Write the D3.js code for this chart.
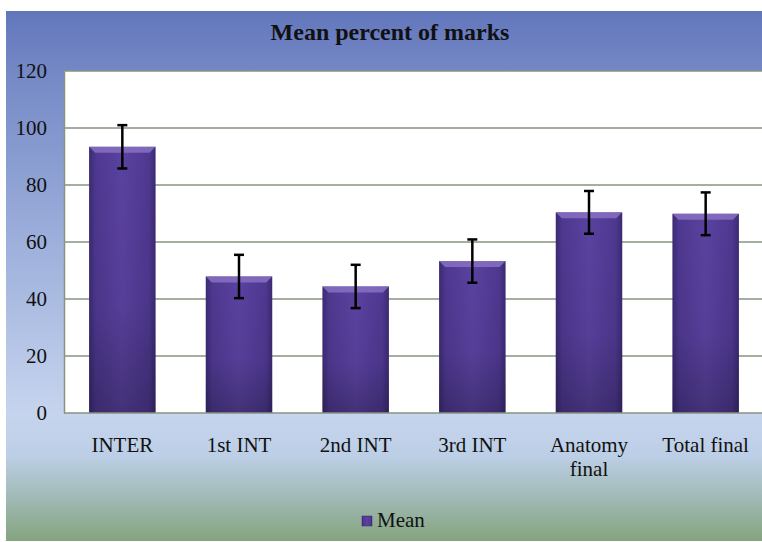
<!DOCTYPE html>
<html>
<head>
<meta charset="utf-8">
<script src="https://cdn.jsdelivr.net/npm/d3@7"></script>
<style>
  body { margin: 0; background: #fff; }
  text { font-family: "Liberation Serif", "DejaVu Serif", serif; }
</style>
</head>
<body>
<div id="chart"></div>
<script>
// data
var categories = ["INTER", "1st INT", "2nd INT", "3rd INT", "Anatomy final", "Total final"];
var means = [93.4, 47.9, 44.4, 53.3, 70.4, 69.9];
var errors = [7.6, 7.6, 7.6, 7.6, 7.5, 7.5];
var yTicks = [0, 20, 40, 60, 80, 100, 120];
var seriesName = "Mean";
var title = "Mean percent of marks";

var W = 762, H = 542;
var plot = { left: 64, top: 71, right: 764, bottom: 413 };

var svg = d3.select("#chart").append("svg")
  .attr("width", W).attr("height", H);

var defs = svg.append("defs");

// panel background: blue at top, pale blue, then green at bottom
var bg = defs.append("linearGradient")
  .attr("id", "bgGrad").attr("x1", 0).attr("y1", 0).attr("x2", 0).attr("y2", 1);
[["0%", "#6276bc"], ["12%", "#7589c6"], ["45%", "#9fb1dc"], ["76%", "#c6d4ee"],
 ["84%", "#bccfe6"], ["92%", "#a0b9b4"], ["100%", "#84a47e"]].forEach(function(s) {
  bg.append("stop").attr("offset", s[0]).attr("stop-color", s[1]);
});

// bar fill: darker at the sides
var barH = defs.append("linearGradient")
  .attr("id", "barGrad").attr("x1", 0).attr("y1", 0).attr("x2", 1).attr("y2", 0);
[["0%", "#3b2a72"], ["10%", "#4e3890"], ["50%", "#5a42a0"], ["90%", "#4e3890"], ["100%", "#3b2a72"]]
  .forEach(function(s) { barH.append("stop").attr("offset", s[0]).attr("stop-color", s[1]); });

var barV = defs.append("linearGradient")
  .attr("id", "barShade").attr("x1", 0).attr("y1", 0).attr("x2", 0).attr("y2", 1);
[["0%", "#000", 0], ["60%", "#000", 0.05], ["100%", "#000", 0.25]].forEach(function(s) {
  barV.append("stop").attr("offset", s[0]).attr("stop-color", s[1]).attr("stop-opacity", s[2]);
});

svg.append("rect")
  .attr("x", 6).attr("y", 11).attr("width", W - 6).attr("height", H - 12)
  .attr("fill", "url(#bgGrad)");

// plot area
svg.append("rect")
  .attr("x", plot.left).attr("y", plot.top)
  .attr("width", plot.right - plot.left).attr("height", plot.bottom - plot.top)
  .attr("fill", "#fff");

var x = d3.scaleBand().domain(categories).range([plot.left, plot.right]).paddingInner(0.43).paddingOuter(0.215);
var y = d3.scaleLinear().domain([0, 120]).range([plot.bottom, plot.top]);

// gridlines
svg.append("g").selectAll("line").data(yTicks.filter(function(d) { return d > 0; }))
  .enter().append("line")
  .attr("x1", plot.left).attr("x2", plot.right)
  .attr("y1", function(d) { return y(d); }).attr("y2", function(d) { return y(d); })
  .attr("stroke", "#87957f").attr("stroke-width", 1.5);

// y axis
var yAxis = svg.append("g")
  .attr("transform", "translate(" + plot.left + ",0)")
  .call(d3.axisLeft(y).tickValues(yTicks).tickSize(0).tickPadding(17));
yAxis.select(".domain").attr("stroke", "#87957f").attr("stroke-width", 1.5);
yAxis.selectAll("text").attr("font-size", 21).attr("fill", "#111")
  .style("font-family", "Liberation Serif, serif");

// bars
var bars = svg.append("g").selectAll("g").data(categories).enter().append("g");
bars.append("rect")
  .attr("x", function(d) { return x(d); })
  .attr("y", function(d, i) { return y(means[i]); })
  .attr("width", x.bandwidth())
  .attr("height", function(d, i) { return plot.bottom - y(means[i]); })
  .attr("fill", "url(#barGrad)");
bars.append("rect")
  .attr("x", function(d) { return x(d); })
  .attr("y", function(d, i) { return y(means[i]); })
  .attr("width", x.bandwidth())
  .attr("height", function(d, i) { return plot.bottom - y(means[i]); })
  .attr("fill", "url(#barShade)");
// top bevel
bars.append("path")
  .attr("d", function(d, i) {
    var x0 = x(d), x1 = x(d) + x.bandwidth(), t = y(means[i]);
    return "M" + x0 + "," + t + "L" + x1 + "," + t + "L" + (x1 - 6) + "," + (t + 6) + "L" + (x0 + 6) + "," + (t + 6) + "Z";
  })
  .attr("fill", "#8b74c4").attr("opacity", 0.8);

// x axis line
svg.append("line")
  .attr("x1", plot.left).attr("x2", plot.right)
  .attr("y1", plot.bottom).attr("y2", plot.bottom)
  .attr("stroke", "#87957f").attr("stroke-width", 1.5);

// error bars
var eb = svg.append("g").attr("stroke", "#000").attr("stroke-width", 2.5);
categories.forEach(function(c, i) {
  var cx = x(c) + x.bandwidth() / 2;
  var hi = y(means[i] + errors[i]), lo = y(means[i] - errors[i]);
  eb.append("line").attr("x1", cx).attr("x2", cx).attr("y1", hi).attr("y2", lo);
  eb.append("line").attr("x1", cx - 5).attr("x2", cx + 5).attr("y1", hi).attr("y2", hi);
  eb.append("line").attr("x1", cx - 5).attr("x2", cx + 5).attr("y1", lo).attr("y2", lo);
});

// category labels (wrap long ones)
var labels = svg.append("g").selectAll("text").data(categories).enter().append("text")
  .attr("x", function(d) { return x(d) + x.bandwidth() / 2; })
  .attr("y", 452)
  .attr("text-anchor", "middle")
  .attr("font-size", 21).attr("fill", "#111");
labels.each(function(d) {
  var t = d3.select(this);
  var parts = d === "Anatomy final" ? ["Anatomy", "final"] : [d];
  parts.forEach(function(p, k) {
    t.append("tspan").attr("x", t.attr("x")).attr("dy", k === 0 ? 0 : 24).text(p);
  });
});

// title
svg.append("text")
  .attr("x", 390).attr("y", 40)
  .attr("text-anchor", "middle")
  .attr("font-size", 24).attr("font-weight", "bold").attr("fill", "#111")
  .text(title);

// legend
var lg = svg.append("g").attr("transform", "translate(362,516)");
lg.append("rect").attr("width", 10).attr("height", 10).attr("fill", "url(#barGrad)")
  .attr("stroke", "#3b2a72").attr("stroke-width", 0.5);
lg.append("text").attr("x", 15).attr("y", 11)
  .attr("font-size", 21).attr("fill", "#111").text(seriesName);
</script>
</body>
</html>
